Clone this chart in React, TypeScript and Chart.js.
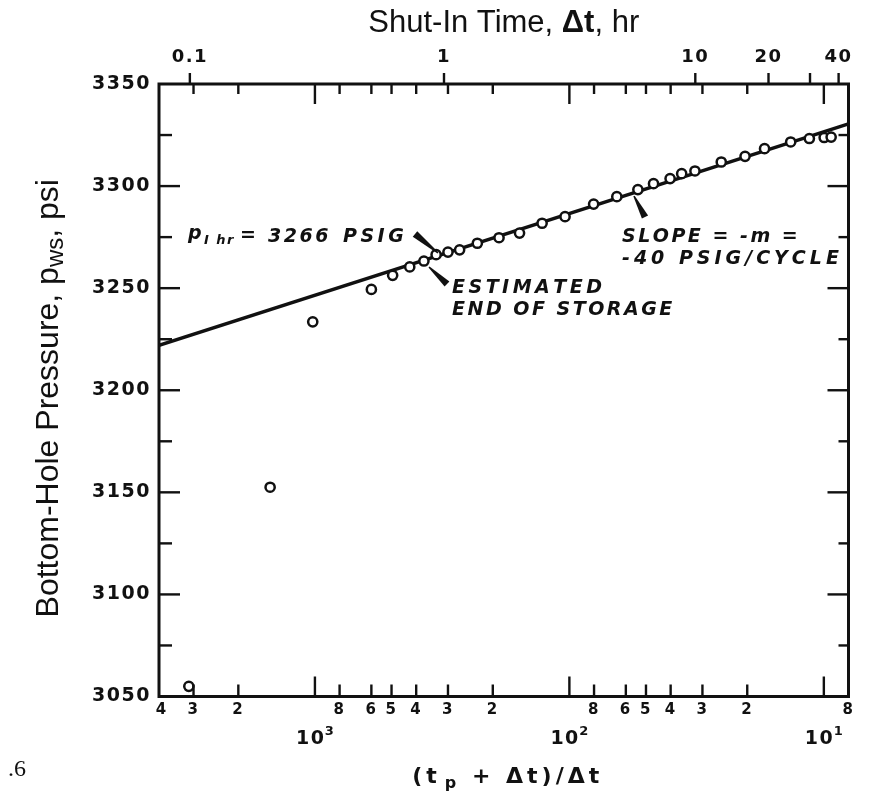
import React, { useEffect, useRef } from 'react';
import { Chart, registerables } from 'chart.js';

Chart.register(...registerables);

// ---- data ----
const PRODUCING_TIME_HR = 310; // tp, links the two time axes

// (tp + dt)/dt for each measured point, and the shut-in pressure in psi
const hornerRatio = [3130, 1500, 1020, 600, 495, 424, 373, 334, 300, 270, 230, 189, 157, 128, 104, 80.3, 65.1, 53.8, 46.7, 40.2, 36.2, 32.1, 25.3, 20.4, 17.1, 13.5, 11.4, 9.97, 9.36];
const shutInPressure = [3055, 3152.5, 3233.5, 3249.4, 3256.3, 3260.4, 3263.3, 3266.4, 3267.7, 3268.8, 3272, 3274.7, 3277, 3281.8, 3285, 3291.2, 3294.8, 3298.3, 3301.2, 3303.7, 3306.1, 3307.4, 3311.8, 3314.6, 3318.3, 3321.6, 3323.3, 3323.8, 3324];

// straight-line fit (semilog) end points
const fitLineHorner = [4100, 8];
const fitLinePressure = [3222, 3330.5];

// bottom axis: Horner ratio ticks and labels
const hornerTicks = [4000, 3000, 2000, 1000, 800, 600, 500, 400, 300, 200, 100, 80, 60, 50, 40, 30, 20, 10, 8];
const hornerTickLabels = ['4', '3', '2', '', '8', '6', '5', '4', '3', '2', '', '8', '6', '5', '4', '3', '2', '', '8'];
const decadeTicks = [1000, 100, 10];
const decadeExponents = ['3', '2', '1'];

// top axis: shut-in time ticks (hr)
const shutInTicks = [0.1, 1, 10, 20, 30, 40];
const shutInTickLabels = ['0.1', '1', '10', '20', '', '40'];

// left axis: pressure ticks (psi)
const pressureTicks = [3050, 3075, 3100, 3125, 3150, 3175, 3200, 3225, 3250, 3275, 3300, 3325, 3350];

const INK = '#111';
const LEROY = '"DejaVu Sans", sans-serif';

function spacedWidth(ctx: CanvasRenderingContext2D, text: string, sp: number) {
  let w = 0;
  for (const ch of text) w += ctx.measureText(ch).width + sp;
  return w - sp;
}
function drawSpaced(ctx: CanvasRenderingContext2D, text: string, x: number, y: number, sp: number) {
  let cx = x;
  for (const ch of text) {
    ctx.fillText(ch, cx, y);
    cx += ctx.measureText(ch).width + sp;
  }
  return cx;
}
function wedge(ctx: CanvasRenderingContext2D, x1: number, y1: number, w1: number, x2: number, y2: number, w2: number) {
  const dx = x2 - x1, dy = y2 - y1, L = Math.hypot(dx, dy);
  const nx = -dy / L, ny = dx / L;
  ctx.beginPath();
  ctx.moveTo(x1 + (nx * w1) / 2, y1 + (ny * w1) / 2);
  ctx.lineTo(x2 + (nx * w2) / 2, y2 + (ny * w2) / 2);
  ctx.lineTo(x2 - (nx * w2) / 2, y2 - (ny * w2) / 2);
  ctx.lineTo(x1 - (nx * w1) / 2, y1 - (ny * w1) / 2);
  ctx.closePath();
  ctx.fill();
}

const decor = {
  id: 'hornerDecor',
  beforeDraw(chart: any) {
    // wide, lettering-guide style spacing for the axis numbers
    (chart.ctx as any).letterSpacing = '1.5px';
  },
  afterDatasetsDraw(chart: any) {
    const { ctx, chartArea: a, scales } = chart;
    const xs = scales.x, x2 = scales.x2, ys = scales.y;
    ctx.save();
    ctx.strokeStyle = INK;
    ctx.lineWidth = 3;
    ctx.strokeRect(a.left, a.top, a.right - a.left, a.bottom - a.top);
    ctx.lineWidth = 2.4;
    const seg = (p: number, q: number, r: number, s: number) => {
      ctx.beginPath();
      ctx.moveTo(p, q);
      ctx.lineTo(r, s);
      ctx.stroke();
    };
    ys.ticks.forEach((t: any) => {
      if (t.value <= 3050 || t.value >= 3350) return;
      const y = ys.getPixelForValue(t.value);
      const major = t.value % 50 === 0;
      seg(a.left, y, a.left + (major ? 21 : 13), y);
      seg(a.right, y, a.right - (major ? 21 : 10), y);
    });
    xs.ticks.forEach((t: any) => {
      if (t.value >= 4000 || t.value <= 8) return;
      const x = xs.getPixelForValue(t.value);
      const dec = decadeTicks.includes(t.value);
      seg(x, a.bottom, x, a.bottom - (dec ? 20 : 12));
      seg(x, a.top, x, a.top + (dec ? 20 : 10));
    });
    x2.ticks.forEach((t: any) => {
      const x = x2.getPixelForValue(t.value);
      seg(x, a.top, x, a.top - 11);
    });

    // annotation pointers
    ctx.fillStyle = INK;
    wedge(ctx, 415, 234, 7, 438, 253, 1.5);
    wedge(ctx, 447, 284, 7, 429, 267, 1.5);
    wedge(ctx, 645, 217, 7, 634, 196, 1.5);
    ctx.restore();
  },
  afterDraw(chart: any) {
    const { ctx, chartArea: a, scales } = chart;
    const xs = scales.x;
    ctx.save();
    (ctx as any).letterSpacing = '0px';
    ctx.fillStyle = INK;
    ctx.textBaseline = 'alphabetic';
    ctx.textAlign = 'left';

    // decade labels 10^n under the bottom axis
    decadeTicks.forEach((d, i) => {
      const x = xs.getPixelForValue(d);
      ctx.font = `bold 19px ${LEROY}`;
      const w1 = spacedWidth(ctx, '10', 1.5);
      ctx.font = `bold 13px ${LEROY}`;
      const w2 = ctx.measureText(decadeExponents[i]).width;
      const x0 = x - (w1 + 1 + w2) / 2;
      ctx.font = `bold 19px ${LEROY}`;
      drawSpaced(ctx, '10', x0, 744, 1.5);
      ctx.font = `bold 13px ${LEROY}`;
      ctx.fillText(decadeExponents[i], x0 + w1 + 1, 735);
    });

    // bottom axis title
    {
      const sp = 4;
      const big = `bold 22px ${LEROY}`, small = `bold 16px ${LEROY}`;
      ctx.font = big;
      const wa = spacedWidth(ctx, '(t', sp);
      const wc = spacedWidth(ctx, ' + Δt)/Δt', sp);
      ctx.font = small;
      const wb = ctx.measureText('p').width;
      const total = wa + sp + wb + sp + wc;
      let x = (a.left + a.right) / 2 - total / 2;
      ctx.font = big;
      x = drawSpaced(ctx, '(t', x, 783, sp);
      x += sp;
      ctx.font = small;
      ctx.fillText('p', x, 788);
      x += wb + sp;
      ctx.font = big;
      drawSpaced(ctx, ' + Δt)/Δt', x, 783, sp);
    }

    // top title
    {
      const nf = '31px "Liberation Sans", Arial, sans-serif';
      const bf = 'bold 31px "Liberation Sans", Arial, sans-serif';
      ctx.font = nf;
      const w1 = ctx.measureText('Shut-In Time, ').width;
      const w3 = ctx.measureText(', hr').width;
      ctx.font = bf;
      const w2 = ctx.measureText('Δt').width;
      let x = (a.left + a.right) / 2 - (w1 + w2 + w3) / 2;
      ctx.font = nf;
      ctx.fillText('Shut-In Time, ', x, 32);
      x += w1;
      ctx.font = bf;
      ctx.fillText('Δt', x, 32);
      x += w2;
      ctx.font = nf;
      ctx.fillText(', hr', x, 32);
    }

    // left title (rotated)
    {
      const nf = '32px "Liberation Sans", Arial, sans-serif';
      const sf = '24px "Liberation Sans", Arial, sans-serif';
      ctx.save();
      ctx.translate(58, (a.top + a.bottom) / 2 + 8);
      ctx.rotate(-Math.PI / 2);
      ctx.font = nf;
      const w1 = ctx.measureText('Bottom-Hole Pressure, p').width;
      const w3 = ctx.measureText(', psi').width;
      ctx.font = sf;
      const w2 = ctx.measureText('ws').width;
      let x = -(w1 + w2 + w3) / 2;
      ctx.font = nf;
      ctx.fillText('Bottom-Hole Pressure, p', x, 0);
      x += w1;
      ctx.font = sf;
      ctx.fillText('ws', x, 5);
      x += w2;
      ctx.font = nf;
      ctx.fillText(', psi', x, 0);
      ctx.restore();
    }

    // annotations
    const af = `italic bold 19px ${LEROY}`;
    const sf = `italic bold 13px ${LEROY}`;
    const sp = 2.5;
    ctx.font = af;
    ctx.fillText('p', 188, 239);
    ctx.font = sf;
    drawSpaced(ctx, 'I hr', 204, 244, 1.5);
    ctx.font = af;
    ctx.fillText('=', 240, 241);
    drawSpaced(ctx, '3266', 268, 242, sp);
    drawSpaced(ctx, 'PSIG', 343, 242, sp + 1);

    drawSpaced(ctx, 'ESTIMATED', 452, 293, sp + 1);
    drawSpaced(ctx, 'END OF STORAGE', 452, 315, sp);

    drawSpaced(ctx, 'SLOPE = -m =', 622, 242, sp);
    drawSpaced(ctx, '-40 PSIG/CYCLE', 622, 264, sp + 1.5);

    // figure-number fragment at the lower left
    ctx.font = '24px "Liberation Serif", serif';
    ctx.fillText('.6', 8, 776);
    ctx.restore();
  },
};

export default function App() {
  const ref = useRef<HTMLCanvasElement>(null);
  useEffect(() => {
    document.body.style.margin = '0';
    const points = hornerRatio.map((h, i) => ({ x: h, y: shutInPressure[i] }));
    const line = fitLineHorner.map((h, i) => ({ x: h, y: fitLinePressure[i] }));
    const tickFont = (size: number) => ({ family: LEROY, weight: 'bold' as const, size });
    const chart = new Chart(ref.current as HTMLCanvasElement, {
      type: 'scatter',
      data: {
        datasets: [
          {
            label: 'Measured',
            data: points,
            order: 0,
            pointRadius: 4.6,
            pointBorderWidth: 2.5,
            pointBorderColor: INK,
            pointBackgroundColor: '#fff',
            showLine: false,
          },
          {
            label: 'Semilog straight line',
            data: line,
            order: 1,
            showLine: true,
            borderColor: INK,
            borderWidth: 3.5,
            pointRadius: 0,
          } as any,
        ],
      },
      options: {
        responsive: false,
        devicePixelRatio: 1,
        animation: false,
        layout: { padding: { left: 0, right: 20.5, top: 0, bottom: 0 } },
        plugins: { legend: { display: false }, tooltip: { enabled: false }, title: { display: false } },
        scales: {
          x: {
            type: 'logarithmic',
            position: 'bottom',
            reverse: true,
            min: 8,
            max: 4100,
            afterBuildTicks: (s: any) => {
              s.ticks = hornerTicks.map((v) => ({ value: v }));
            },
            afterFit: (s: any) => {
              s.height = 99.5;
            },
            grid: { display: false, drawTicks: false },
            border: { display: false },
            ticks: {
              autoSkip: false,
              maxRotation: 0,
              padding: 5,
              color: INK,
              font: tickFont(15),
              callback: (_v: any, i: number) => hornerTickLabels[i],
            },
          },
          x2: {
            type: 'logarithmic',
            position: 'top',
            reverse: true,
            min: 8,
            max: 4100,
            afterBuildTicks: (s: any) => {
              s.ticks = shutInTicks.map((dt) => ({ value: (PRODUCING_TIME_HR + dt) / dt }));
            },
            afterFit: (s: any) => {
              s.height = 84;
            },
            grid: { display: false, drawTicks: false },
            border: { display: false },
            ticks: {
              autoSkip: false,
              maxRotation: 0,
              padding: 16,
              color: INK,
              font: tickFont(18),
              callback: (_v: any, i: number) => shutInTickLabels[i],
            },
          },
          y: {
            type: 'linear',
            position: 'left',
            min: 3050,
            max: 3350,
            afterBuildTicks: (s: any) => {
              s.ticks = pressureTicks.map((v) => ({ value: v }));
            },
            afterFit: (s: any) => {
              s.width = 159;
            },
            grid: { display: false, drawTicks: false },
            border: { display: false },
            ticks: {
              autoSkip: false,
              padding: 8,
              color: INK,
              font: tickFont(19),
              callback: (v: any) => (Number(v) % 50 === 0 ? String(v) : ''),
            },
          },
        },
      } as any,
      plugins: [decor],
    });
    return () => chart.destroy();
  }, []);
  return <canvas ref={ref} width={869} height={796} style={{ display: 'block', width: 869, height: 796 }} />;
}
